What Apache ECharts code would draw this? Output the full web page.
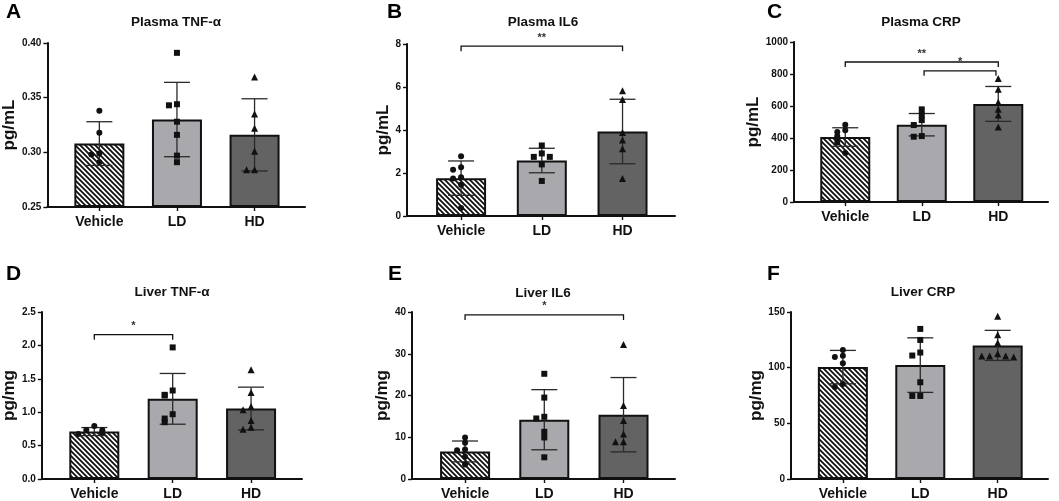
<!DOCTYPE html>
<html><head><meta charset="utf-8">
<script src="https://cdn.jsdelivr.net/npm/echarts@6/dist/echarts.min.js"></script>
<style>html,body{margin:0;padding:0;background:#fff}#c{width:1059px;height:501px}</style>
</head><body><div id="c"></div>
<script>
// ---------- DATA ----------
const categories = ['Vehicle', 'LD', 'HD'];

// A: Plasma TNF-α (pg/mL)
const plasmaTnfMean = [0.308, 0.330, 0.316];
const plasmaTnfSD = [0.020, 0.034, 0.033];
const plasmaTnfPts = [
  [0.338, 0.318, 0.299, 0.298, 0.291],
  [0.391, 0.344, 0.343, 0.328, 0.316, 0.297, 0.291],
  [0.369, 0.335, 0.322, 0.301, 0.284, 0.284]
];
// B: Plasma IL6 (pg/mL)
const plasmaIl6Mean = [1.76, 2.58, 3.93];
const plasmaIl6SD = [0.80, 0.57, 1.50];
const plasmaIl6Pts = [
  [2.78, 2.27, 2.15, 1.80, 1.75, 1.45, 0.37],
  [3.28, 2.91, 2.75, 2.75, 2.40, 1.63],
  [5.82, 5.42, 3.88, 3.53, 3.13, 1.75]
];
// C: Plasma CRP (pg/mL)
const plasmaCrpMean = [406, 483, 613];
const plasmaCrpSD = [58, 70, 109];
const plasmaCrpPts = [
  [483, 448, 438, 412, 400, 372, 307],
  [579, 544, 512, 481, 412, 408],
  [772, 705, 623, 579, 544, 469]
];
// D: Liver TNF-α (pg/mg)
const liverTnfMean = [0.71, 1.20, 1.055];
const liverTnfSD = [0.06, 0.38, 0.32];
const liverTnfPts = [
  [0.795, 0.735, 0.73, 0.695, 0.675],
  [1.97, 1.325, 1.26, 1.25, 0.97, 0.905, 0.85],
  [1.635, 1.295, 1.085, 1.035, 0.875, 0.775, 0.745]
];
// E: Liver IL6 (pg/mg)
const liverIl6Mean = [6.6, 14.2, 15.4];
const liverIl6SD = [2.5, 7.2, 8.9];
const liverIl6Pts = [
  [9.95, 8.66, 7.06, 6.9, 5.3, 3.45],
  [25.2, 19.5, 14.9, 14.5, 11.3, 9.95, 5.2],
  [32.2, 17.6, 14.0, 10.8, 8.9, 8.9]
];
// F: Liver CRP (pg/mg)
const liverCrpMean = [100.5, 102.3, 120.0];
const liverCrpSD = [15, 24.5, 13.5];
const liverCrpPts = [
  [115.9, 110.8, 109.6, 103.9, 85.3, 82.6],
  [134.8, 124.9, 113.6, 110.9, 86.9, 74.6, 74.6],
  [146.1, 129.6, 122.4, 112.5, 110.5, 110.5, 110.5, 109.6]
];

// y-axis scales: [min, max, interval]
const plasmaTnfAxis = [0.25, 0.40, 0.05];
const plasmaIl6Axis = [0, 8, 2];
const plasmaCrpAxis = [0, 1000, 200];
const liverTnfAxis = [0, 2.5, 0.5];
const liverIl6Axis = [0, 40, 10];
const liverCrpAxis = [0, 150, 50];

// significance brackets: [fromCategory, toCategory, yValue]
const plasmaIl6Sig = [[0, 2, 7.9]];
const plasmaIl6SigLabels = ['**'];
const plasmaCrpSig = [[0, 2, 875], [1.03, 1.97, 820]];
const plasmaCrpSigLabels = ['**', '*'];
const liverTnfSig = [[0, 1, 2.16]];
const liverTnfSigLabels = ['*'];
const liverIl6Sig = [[0, 2, 39.3]];
const liverIl6SigLabels = ['*'];

// ---------- LAYOUT / STYLE ----------
const FONT = '"Liberation Sans", Arial, Helvetica, sans-serif';
const panels = [
  {letter: 'A', title: 'Plasma TNF-α', unit: 'pg/mL', mean: plasmaTnfMean, sd: plasmaTnfSD, pts: plasmaTnfPts, axis: plasmaTnfAxis, dec: 2, sig: [], sigLab: [],
   grid: {left: 44, top: 43, width: 261, height: 164}, nameGap: 21, lx: 6, ly: 2, tx: 176, ty: 15},
  {letter: 'B', title: 'Plasma IL6', unit: 'pg/mL', mean: plasmaIl6Mean, sd: plasmaIl6SD, pts: plasmaIl6Pts, axis: plasmaIl6Axis, dec: 0, sig: plasmaIl6Sig, sigLab: plasmaIl6SigLabels,
   grid: {left: 407, top: 44, width: 268, height: 172}, nameGap: 13, lx: 387, ly: 2, tx: 543, ty: 15},
  {letter: 'C', title: 'Plasma CRP', unit: 'pg/mL', mean: plasmaCrpMean, sd: plasmaCrpSD, pts: plasmaCrpPts, axis: plasmaCrpAxis, dec: 0, sig: plasmaCrpSig, sigLab: plasmaCrpSigLabels,
   grid: {left: 794, top: 42, width: 254, height: 160}, nameGap: 24, lx: 767, ly: 2, tx: 921, ty: 15},
  {letter: 'D', title: 'Liver TNF-α', unit: 'pg/mg', mean: liverTnfMean, sd: liverTnfSD, pts: liverTnfPts, axis: liverTnfAxis, dec: 1, sig: liverTnfSig, sigLab: liverTnfSigLabels,
   grid: {left: 40, top: 312, width: 262, height: 167}, nameGap: 18, lx: 6, ly: 264, tx: 172, ty: 285},
  {letter: 'E', title: 'Liver IL6', unit: 'pg/mg', mean: liverIl6Mean, sd: liverIl6SD, pts: liverIl6Pts, axis: liverIl6Axis, dec: 0, sig: liverIl6Sig, sigLab: liverIl6SigLabels,
   grid: {left: 412, top: 312, width: 263, height: 167}, nameGap: 17, lx: 388, ly: 264, tx: 543, ty: 286},
  {letter: 'F', title: 'Liver CRP', unit: 'pg/mg', mean: liverCrpMean, sd: liverCrpSD, pts: liverCrpPts, axis: liverCrpAxis, dec: 0, sig: [], sigLab: [],
   grid: {left: 791, top: 312, width: 257, height: 167}, nameGap: 21, lx: 767, ly: 264, tx: 923, ty: 285}
];

// hatch pattern for Vehicle bars
const T = 5;
const hatch = document.createElement('canvas');
hatch.width = T; hatch.height = T;
(function () {
  const g = hatch.getContext('2d');
  g.fillStyle = '#fff'; g.fillRect(0, 0, T, T);
  g.strokeStyle = '#111'; g.lineWidth = 1.8;
  g.beginPath();
  g.moveTo(-1, -1); g.lineTo(T + 1, T + 1);
  g.moveTo(-1, T - 1); g.lineTo(1, T + 1);
  g.moveTo(T - 1, -1); g.lineTo(T + 1, 1);
  g.stroke();
})();
const barFills = [{image: hatch, repeat: 'repeat'}, '#a9a8ad', '#636363'];
const symbols = ['circle', 'rect', 'triangle'];
const symbolSizes = [6, 6, 7];

function jitterOffsets(vals, axis, h) {
  const placed = [];
  const offs = [0, -8, 8, -16, 16, -24, 24];
  return vals.map(v => {
    const py = (v - axis[0]) / (axis[1] - axis[0]) * h;
    const k = placed.filter(p => Math.abs(p - py) < 5).length;
    placed.push(py);
    return offs[k] || 0;
  });
}

const option = {
  animation: false,
  backgroundColor: '#fff',
  title: [], grid: [], xAxis: [], yAxis: [], series: []
};

panels.forEach((p, i) => {
  option.title.push({text: p.letter, left: p.lx, top: p.ly, padding: 0,
    textStyle: {fontFamily: FONT, fontWeight: 'bold', fontSize: 21, color: '#000'}});
  option.title.push({text: p.title, left: p.tx, top: p.ty, textAlign: 'center', padding: 0,
    textStyle: {fontFamily: FONT, fontWeight: 'bold', fontSize: 13.5, color: '#111'}});
  option.grid.push(Object.assign({containLabel: false}, p.grid));
  option.xAxis.push({
    type: 'value', gridIndex: i, min: -0.67, max: 2.65,
    splitLine: {show: false},
    axisLine: {show: true, onZero: false, lineStyle: {color: '#111', width: 2}},
    axisTick: {show: true, customValues: [0, 1, 2], length: 4, lineStyle: {color: '#111', width: 1.4}},
    axisLabel: {show: true, customValues: [0, 1, 2], margin: 8,
      formatter: v => categories[Math.round(v)] || '',
      fontFamily: FONT, fontWeight: 'bold', fontSize: 14, color: '#111'}
  });
  option.yAxis.push({
    type: 'value', gridIndex: i, min: p.axis[0], max: p.axis[1], interval: p.axis[2],
    startValue: p.axis[0],
    name: p.unit, nameLocation: 'middle', nameGap: p.nameGap,
    nameTextStyle: {fontFamily: FONT, fontWeight: 'bold', fontSize: 17, color: '#111'},
    splitLine: {show: false},
    axisLine: {show: true, onZero: false, lineStyle: {color: '#111', width: 2}},
    axisTick: {show: true, length: 4, lineStyle: {color: '#111', width: 1.4}},
    axisLabel: {margin: 6, formatter: v => v.toFixed(p.dec),
      fontFamily: FONT, fontWeight: 'bold', fontSize: 10, color: '#111'}
  });
  // bars
  option.series.push({
    type: 'bar', xAxisIndex: i, yAxisIndex: i, barWidth: 50, z: 2,
    data: p.mean.map((m, k) => ({value: [k, m],
      itemStyle: {color: barFills[k], borderColor: '#111', borderWidth: 2}}))
  });
  // error bars
  option.series.push({
    type: 'custom', xAxisIndex: i, yAxisIndex: i, z: 3,
    encode: {x: 0, y: 1},
    data: p.mean.map((m, k) => [k, m, p.sd[k]]),
    renderItem: (params, api) => {
      const x = api.value(0), m = api.value(1), s = api.value(2);
      const t = api.coord([x, m + s]), b = api.coord([x, m - s]);
      const st = {stroke: '#2a2a2a', lineWidth: 1.3};
      return {type: 'group', children: [
        {type: 'line', shape: {x1: t[0], y1: t[1], x2: b[0], y2: b[1]}, style: st},
        {type: 'line', shape: {x1: t[0] - 13, y1: t[1], x2: t[0] + 13, y2: t[1]}, style: st},
        {type: 'line', shape: {x1: b[0] - 13, y1: b[1], x2: b[0] + 13, y2: b[1]}, style: st}
      ]};
    }
  });
  // points
  p.pts.forEach((vals, k) => {
    const offs = jitterOffsets(vals, p.axis, p.grid.height);
    option.series.push({
      type: 'scatter', xAxisIndex: i, yAxisIndex: i, z: 4,
      symbol: symbols[k], symbolSize: symbolSizes[k],
      itemStyle: {color: '#111', opacity: 1},
      data: vals.map((v, j) => ({value: [k, v], symbolOffset: [offs[j], 0]}))
    });
  });
  // significance brackets
  if (p.sig.length) {
    option.series.push({
      type: 'custom', xAxisIndex: i, yAxisIndex: i, z: 5,
      encode: {x: [0, 1], y: 2},
      data: p.sig,
      renderItem: (params, api) => {
        const a = api.coord([api.value(0), api.value(2)]);
        const b = api.coord([api.value(1), api.value(2)]);
        const leg = 5;
        return {type: 'group', children: [
          {type: 'polyline', shape: {points: [[a[0], a[1] + leg], [a[0], a[1]], [b[0], b[1]], [b[0], b[1] + leg]]},
           style: {stroke: '#111', lineWidth: 1.3, fill: null}},
          {type: 'text', style: {text: p.sigLab[params.dataIndex], x: (a[0] + b[0]) / 2, y: a[1] - 3,
            textAlign: 'center', textVerticalAlign: 'bottom',
            font: 'bold 11px ' + FONT, fill: '#333'}}
        ]};
      }
    });
  }
});

const chart = echarts.init(document.getElementById('c'), null, {renderer: 'canvas'});
chart.setOption(option);
</script>
</body></html>
